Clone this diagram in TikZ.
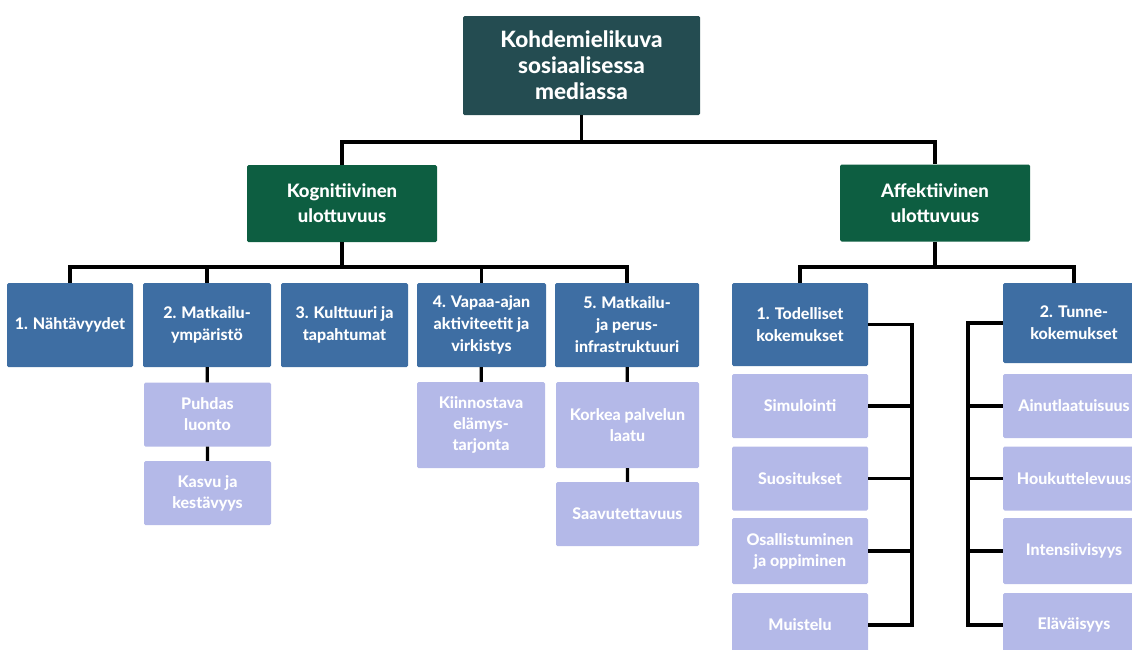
\documentclass[tikz,border=0pt]{standalone}
\usepackage{fontspec}
\setmainfont{Lato}[BoldFont={Lato Heavy}]
\usetikzlibrary{calc}
\definecolor{rootc}{HTML}{244C51}
\definecolor{dimc}{HTML}{0D5E41}
\definecolor{catc}{HTML}{3E6EA3}
\definecolor{subc}{HTML}{B4B9E8}
\tikzset{ bx/.style = { rectangle
                       , rounded corners = 1.5pt
                       , text         = white
                       , align        = center
                       , inner sep    = 2pt
                       },
            rt/.style = { bx
                       , fill = rootc
                       , minimum width  = 237pt
                       , minimum height = 99pt
                       , font = \fontsize{22.5}{26}\selectfont\bfseries
                       },
            dm/.style = { bx
                       , fill = dimc
                       , minimum width  = 190pt
                       , minimum height = 77pt
                       , font = \fontsize{18.5}{25}\selectfont\bfseries
                       },
            ct/.style = { bx
                       , fill = catc
                       , minimum width  = 127pt
                       , minimum height = 84pt
                       , font = \fontsize{16}{22}\selectfont\bfseries
                       },
            sb/.style = { bx
                       , fill = subc
                       , minimum width  = 127pt
                       , minimum height = 64pt
                       , font = \fontsize{16}{21}\selectfont\bfseries
                       },
            ln/.style = { line width = 3.2pt
                       , line join  = miter
                       }
          }
\begin{document}
\begin{tikzpicture}[x=1pt, y=-1pt]
      \useasboundingbox (0,0) rectangle (1132,649);
      \clip (0,0) rectangle (1132,649);
      \node[rt] (root) at (581.5,65.5) {Kohdemielikuva\\sosiaalisessa\\mediassa};
      \node[dm] (kog) at (342,203.5) {Kognitiivinen\\ulottuvuus};
      \node[dm] (aff) at (935,203) {Affektiivinen\\ulottuvuus};
      % kognitiivinen
       \node[ct, minimum width=126pt] (c1) at (70,325) {1. Nähtävyydet};
       \node[ct, minimum width=128pt] (c2) at (207,325) {2. Matkailu-\\ympäristö};
       \node[ct] (c3) at (344.5,325) {3. Kulttuuri ja\\tapahtumat};
       \node[ct, minimum width=129pt] (c4) at (481.5,325) {4. Vapaa-ajan\\aktiviteetit ja\\virkistys};
       \node[ct, minimum width=144pt] (c5) at (627,325) {5. Matkailu-\\ja perus-\\infrastruktuuri};
       \node[sb] (c2a) at (207.5,414.5) {Puhdas\\luonto};
       \node[sb] (c2b) at (207.5,493) {Kasvu ja\\kestävyys};
       \node[sb, minimum width=128pt, minimum height=86pt] (c4a) at (481,425) {Kiinnostava\\elämys-\\tarjonta};
       \node[sb, minimum width=143pt, minimum height=86pt] (c5a) at (627.5,425) {Korkea palvelun\\laatu};
       \node[sb, minimum width=143pt] (c5b) at (627.5,514) {Saavutettavuus};
      % affektiivinen
       \node[ct, minimum width=136pt, minimum height=83pt] (a1) at (800,324.5) {1. Todelliset\\kokemukset};
       \node[ct, minimum width=142pt, minimum height=80pt] (a2) at (1074,323) {2. Tunne-\\kokemukset};
       \node[sb, minimum width=136pt] (a1a) at (800,406) {Simulointi};
       \node[sb, minimum width=136pt] (a1b) at (800,478.5) {Suositukset};
       \node[sb, minimum width=136pt, minimum height=66pt] (a1c) at (800,551) {Osallistuminen\\ja oppiminen};
       \node[sb, minimum width=136pt] (a1d) at (800,625) {Muistelu};
       \node[sb, minimum width=142pt] (a2a) at (1074,406) {Ainutlaatuisuus};
       \node[sb, minimum width=142pt] (a2b) at (1074,478.5) {Houkuttelevuus};
       \node[sb, minimum width=142pt, minimum height=66pt] (a2c) at (1074,551) {Intensiivisyys};
       \node[sb, minimum width=142pt] (a2d) at (1074,625) {Eläväisyys};

      \coordinate (j0) at (581.5,142);
      \coordinate (j1) at (342,267);
      \coordinate (j2) at (935,267);
      \coordinate (rb) at (912,0);
      \coordinate (lb) at (968,0);

      \draw[ln] (root)--(j0)  (kog.north) |- (j0) -| (aff.north);
      \draw[ln] (kog)--(j1)  (aff)--(j2);
      \draw[ln] (c1.north) |- (j1) -| (c5.north)
                (c2.north) -- (c2.north |- j1)  (c4.north) -- (c4.north |- j1);
      \draw[ln] (c2)--(c2a)--(c2b)  (c4)--(c4a)  (c5)--(c5a)--(c5b);
      \draw[ln] (a1.north) |- (j2) -| (a2.north);
      \draw[ln] (a1.east) -| (a1d.east -| rb) -- (a1d.east)
                (a1a.east) -- (a1a.east -| rb)  (a1b.east) -- (a1b.east -| rb)
                (a1c.east) -- (a1c.east -| rb);
      \draw[ln] (a2.west) -| (a2d.west -| lb) -- (a2d.west)
                (a2a.west) -- (a2a.west -| lb)  (a2b.west) -- (a2b.west -| lb)
                (a2c.west) -- (a2c.west -| lb);
    \end{tikzpicture}
\end{document}
